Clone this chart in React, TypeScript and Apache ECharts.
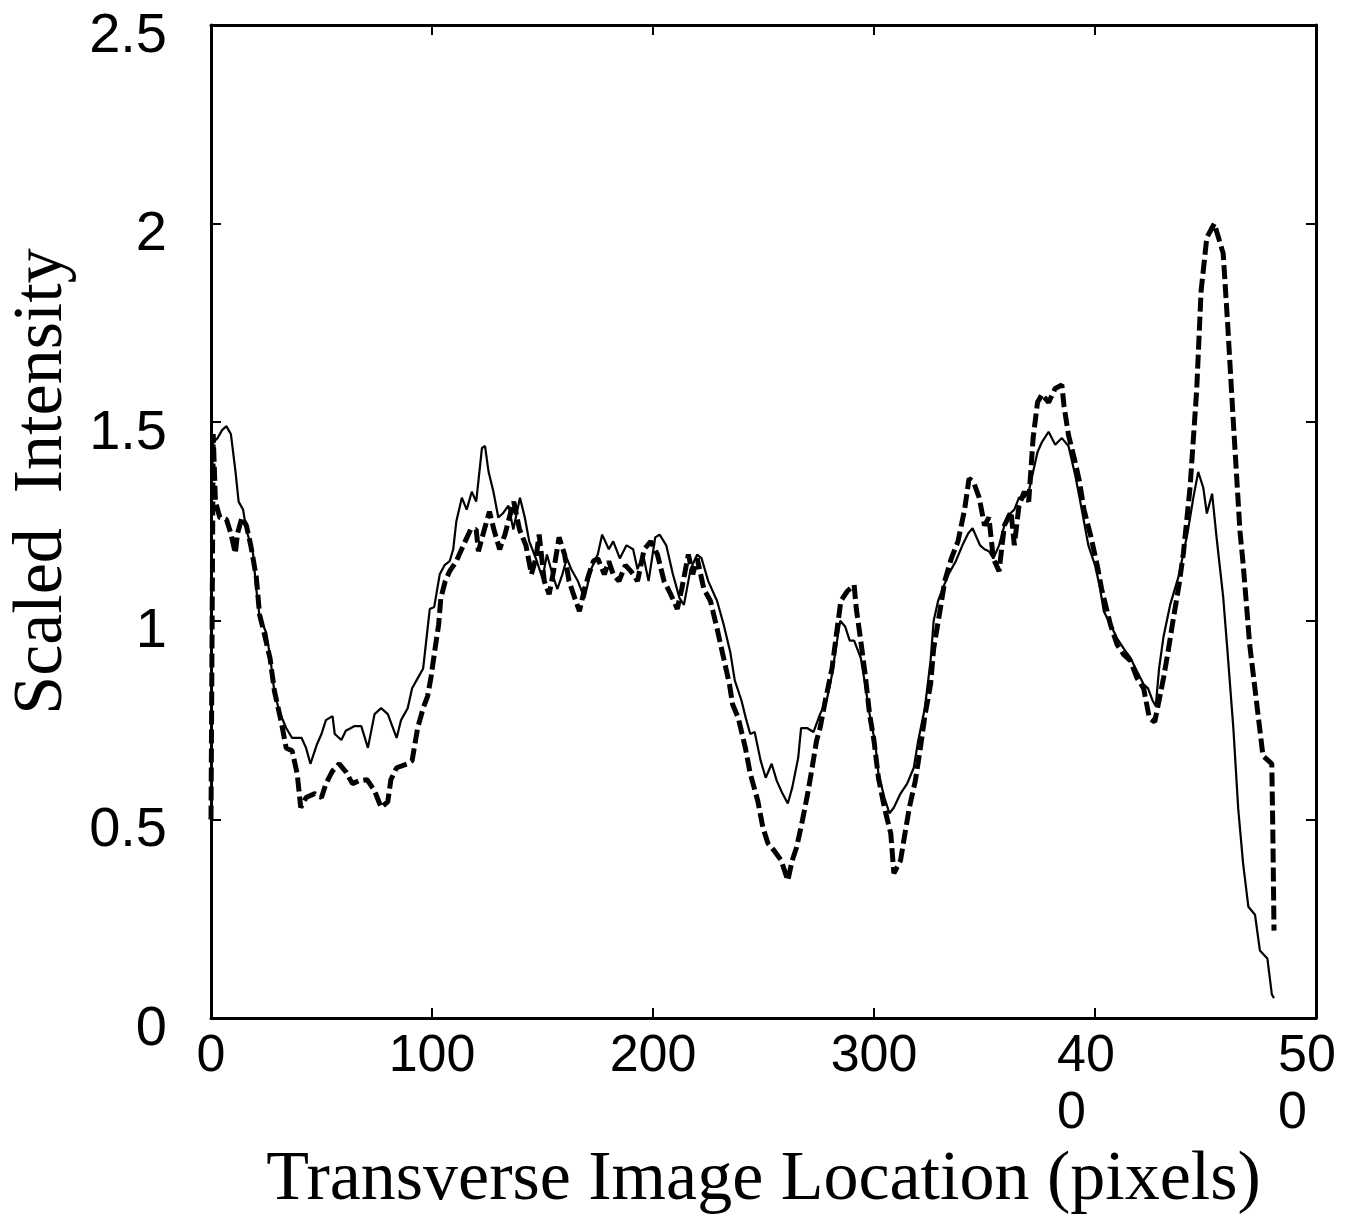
import React, { useEffect, useRef } from "react";
import * as echarts from "echarts";

// Tick labels (the original wraps the 3-digit labels at 400 and 500)
const xTickValues = [0, 100, 200, 300, 400, 500];
const xTickLabels = ["0", "100", "200", "300", "40\n0", "50\n0"];
const yTickLabels = ["0", "0.5", "1", "1.5", "2", "2.5"];

// Solid profile
const solidX = [
  0, 1, 3, 5, 7, 9, 11, 12.5, 14.5, 16, 19, 20.5, 22, 25, 27, 28.7, 31, 34, 36.7, 41,
  43, 45, 48, 50, 52, 55, 56, 59, 61, 65, 68, 71, 74, 77, 80, 84, 86, 89, 91, 93,
  96, 99, 101, 103.5, 105.7, 108, 109.6, 111, 113.5, 115.7, 118, 120, 122.6, 124, 125.6, 127.8, 130, 132, 134.6, 136.8,
  139.8, 142, 144, 147, 150, 152, 154.5, 156.7, 159, 161, 163, 166, 169, 172, 175, 177, 180, 182, 185, 188,
  191, 193, 195.5, 198, 201, 203, 206, 209, 212, 214, 217, 220, 222, 225, 229, 232, 235, 237, 240, 242,
  244, 246, 248.7, 251, 253.7, 256, 258.6, 261, 263, 265.7, 267, 269.7, 272.6, 275.6, 278.6, 281, 283, 284.7, 287, 289,
  291, 294, 296, 298, 300.6, 302, 304.7, 307, 309, 312, 315, 318, 320, 323, 325.6, 327, 329, 331, 334, 337,
  340, 342.6, 344.6, 348, 350, 352, 354, 356.6, 359, 361, 363.5, 365.6, 368, 370, 372, 374, 376, 379, 382, 385,
  388, 391, 393, 395, 397, 400, 402, 404, 407, 410, 413, 416, 419, 422, 424, 426, 427.5, 429, 431, 434,
  438, 442, 444.5, 446.7, 449, 450.6, 453, 455, 458, 460, 462.6, 464.8, 467, 469.4, 472.4, 474.6, 478, 480, 481,
];
const solidY = [
  1.3, 1.45, 1.46, 1.48, 1.49, 1.47, 1.38, 1.3, 1.28, 1.23, 1.17, 1.08, 1.01, 0.97, 0.9, 0.82, 0.77, 0.73, 0.705, 0.705,
  0.68, 0.64, 0.69, 0.715, 0.75, 0.76, 0.715, 0.7, 0.723, 0.735, 0.735, 0.68, 0.765, 0.78, 0.765, 0.705, 0.75, 0.78, 0.83, 0.85,
  0.88, 1.03, 1.035, 1.117, 1.14, 1.15, 1.18, 1.25, 1.31, 1.28, 1.325, 1.3, 1.435, 1.44, 1.375, 1.325, 1.26, 1.27, 1.29, 1.23,
  1.31, 1.26, 1.2, 1.157, 1.107, 1.167, 1.117, 1.08, 1.117, 1.157, 1.13, 1.1, 1.057, 1.13, 1.167, 1.217, 1.18, 1.2, 1.157, 1.19,
  1.18, 1.13, 1.167, 1.1, 1.21, 1.217, 1.19, 1.117, 1.057, 1.04, 1.13, 1.167, 1.157, 1.1, 1.05, 0.99, 0.92, 0.85, 0.8, 0.755,
  0.715, 0.72, 0.648, 0.605, 0.64, 0.597, 0.565, 0.54, 0.58, 0.655, 0.73, 0.73, 0.72, 0.765, 0.8, 0.865, 0.94, 1.0, 0.985, 0.95,
  0.95, 0.907, 0.84, 0.765, 0.69, 0.615, 0.555, 0.515, 0.53, 0.565, 0.59, 0.63, 0.698, 0.78, 0.9, 1.0, 1.05, 1.08, 1.12, 1.15,
  1.19, 1.22, 1.233, 1.19, 1.18, 1.175, 1.157, 1.19, 1.24, 1.267, 1.28, 1.31, 1.31, 1.325, 1.375, 1.425, 1.45, 1.476, 1.443, 1.46,
  1.44, 1.368, 1.31, 1.25, 1.19, 1.14, 1.09, 1.024, 0.99, 0.956, 0.93, 0.907, 0.873, 0.84, 0.83, 0.8, 0.785, 0.88, 0.96, 1.04,
  1.115, 1.225, 1.31, 1.375, 1.335, 1.27, 1.32, 1.21, 1.06, 0.92, 0.73, 0.527, 0.39, 0.28, 0.26, 0.17, 0.15, 0.06, 0.05,
];

// Dashed profile
const dashedX = [
  0, 1, 2, 4, 7, 9, 11, 12, 14, 16, 18, 20.5, 22, 24, 26.7, 28.7, 31.7, 34, 36.7, 39,
  40.6, 43, 47, 50, 52, 55, 58, 61, 64, 66.8, 70.6, 74, 77, 80, 81.4, 84, 89, 91, 93.5, 96,
  98, 99.5, 101, 103, 104, 106, 108, 111, 113, 115, 117.5, 120, 121, 123.7, 126, 128, 130.6, 133, 135, 137,
  139.6, 142.5, 145, 147, 148.5, 150.8, 153, 155, 157.5, 160, 162, 164, 166.7, 169, 171, 173, 175, 178, 180, 182,
  184.6, 187.5, 190, 193, 196, 199, 202, 205, 208, 211, 213, 216, 218, 220, 223, 226, 229, 231, 233, 234.6,
  236, 238.6, 241.8, 244, 247.4, 249.7, 252, 255, 258, 261, 263, 265, 267.6, 270, 272, 274, 275.6, 278, 281, 283,
  285, 288, 291, 292, 294, 296, 298, 300, 302, 304.7, 307.6, 309, 312, 314, 316, 318.7, 321, 323, 325.6, 327,
  330, 332, 335, 338, 341, 343, 345, 347.6, 350, 352, 354, 356.6, 359, 362, 363.5, 365.6, 368, 370, 372, 374,
  376, 379, 382, 385, 386, 388, 391, 393, 395, 398, 401, 403, 407, 410, 413, 416, 419, 422, 424.6, 427,
  429, 431, 433, 435, 438, 440, 443, 446, 448, 450.6, 454, 458, 460, 462.6, 465.6, 467, 470, 473, 476, 480,
  480.5, 481,
];
const dashedY = [
  0.5, 1.47, 1.3, 1.26, 1.255, 1.22, 1.17, 1.22, 1.26, 1.24, 1.19, 1.11, 1.015, 0.97, 0.906, 0.823, 0.748, 0.68, 0.673, 0.615,
  0.53, 0.555, 0.565, 0.555, 0.59, 0.622, 0.64, 0.62, 0.59, 0.597, 0.6, 0.572, 0.53, 0.545, 0.6, 0.63, 0.64, 0.648, 0.73, 0.78,
  0.81, 0.856, 0.915, 0.99, 1.057, 1.1, 1.125, 1.15, 1.175, 1.2, 1.23, 1.23, 1.175, 1.23, 1.275, 1.23, 1.18, 1.217, 1.26, 1.3,
  1.23, 1.19, 1.117, 1.157, 1.217, 1.1, 1.067, 1.125, 1.21, 1.167, 1.1, 1.067, 1.024, 1.08, 1.117, 1.15, 1.157, 1.117, 1.15, 1.117,
  1.1, 1.14, 1.125, 1.1, 1.18, 1.2, 1.167, 1.1, 1.067, 1.03, 1.08, 1.167, 1.117, 1.157, 1.08, 1.05, 0.98, 0.93, 0.88, 0.84,
  0.79, 0.755, 0.68, 0.615, 0.547, 0.48, 0.44, 0.42, 0.397, 0.346, 0.397, 0.43, 0.497, 0.565, 0.63, 0.698, 0.73, 0.8, 0.88, 0.966,
  1.05, 1.075, 1.09, 1.03, 0.95, 0.865, 0.765, 0.698, 0.605, 0.53, 0.464, 0.364, 0.397, 0.464, 0.53, 0.597, 0.68, 0.76, 0.84, 0.93,
  1.03, 1.1, 1.157, 1.2, 1.28, 1.358, 1.35, 1.31, 1.24, 1.26, 1.157, 1.125, 1.24, 1.275, 1.19, 1.29, 1.325, 1.3, 1.46, 1.55,
  1.57, 1.55, 1.585, 1.594, 1.54, 1.468, 1.4, 1.35, 1.28, 1.215, 1.14, 1.08, 0.99, 0.94, 0.915, 0.9, 0.856, 0.83, 0.755, 0.745,
  0.8, 0.856, 0.92, 0.99, 1.09, 1.17, 1.335, 1.58, 1.83, 1.965, 2.0, 1.925, 1.75, 1.5, 1.225, 1.145, 0.94, 0.8, 0.66, 0.64,
  0.457, 0.22,
];

const zip = (xs: number[], ys: number[]) => xs.map((x, i) => [x, ys[i]]);

export default function App() {
  const ref = useRef<HTMLDivElement>(null);
  useEffect(() => {
    if (!ref.current) return;
    const chart = echarts.init(ref.current, null, { renderer: "svg" });
    const sans = "'Liberation Sans', Arial, sans-serif";
    const serif = "'Liberation Serif', 'Times New Roman', serif";
    const axisLine = { show: true, onZero: false, lineStyle: { color: "#000", width: 3 } };
    const tick = { show: true, inside: true, length: 10, lineStyle: { color: "#000", width: 2 } };
    chart.setOption({
      animation: false,
      backgroundColor: "#fff",
      grid: {
        left: 211,
        right: 40,
        top: 25,
        bottom: 198,
        containLabel: false,
        outerBoundsMode: "none",
      },
      xAxis: [
        {
          type: "value",
          position: "bottom",
          min: 0,
          max: 500,
          interval: 100,
          axisLine,
          axisTick: tick,
          splitLine: { show: false },
          axisLabel: {
            margin: 6,
            color: "#000",
            fontFamily: sans,
            fontSize: 52,
            lineHeight: 57,
            formatter: (v: number) => {
              const i = xTickValues.indexOf(v);
              const s = i >= 0 ? xTickLabels[i] : String(v);
              if (s.indexOf("\n") >= 0) {
                return s
                  .split("\n")
                  .map((p) => "{w|" + p + "}")
                  .join("\n");
              }
              return s;
            },
            rich: {
              w: {
                width: 76,
                align: "left",
                fontFamily: sans,
                fontSize: 52,
                lineHeight: 57,
                color: "#000",
              },
            },
          },
          name: "Transverse Image Location (pixels)",
          nameLocation: "middle",
          nameGap: 137,
          nameMoveOverlap: false,
          nameTextStyle: { fontFamily: serif, fontSize: 70, lineHeight: 40, color: "#000" },
        },
        {
          type: "value",
          position: "top",
          min: 0,
          max: 500,
          interval: 100,
          axisLine,
          axisTick: tick,
          axisLabel: { show: false },
          splitLine: { show: false },
        },
      ],
      yAxis: [
        {
          type: "value",
          position: "left",
          min: 0,
          max: 2.5,
          interval: 0.5,
          axisLine,
          axisTick: tick,
          splitLine: { show: false },
          axisLabel: {
            margin: 44,
            color: "#000",
            fontFamily: sans,
            fontSize: 56,
            verticalAlign: "top",
            lineHeight: 14,
            formatter: (v: number) => {
              const i = Math.round(v / 0.5);
              return yTickLabels[i] ?? String(v);
            },
          },
          name: "Scaled  Intensity",
          nameLocation: "middle",
          nameGap: 139,
          nameMoveOverlap: false,
          nameTextStyle: {
            fontFamily: serif,
            fontSize: 70,
            color: "#000",
            padding: [0, 0, 0, 80],
          },
        },
        {
          type: "value",
          position: "right",
          min: 0,
          max: 2.5,
          interval: 0.5,
          axisLine,
          axisTick: tick,
          axisLabel: { show: false },
          splitLine: { show: false },
        },
      ],
      series: [
        {
          name: "solid",
          type: "line",
          xAxisIndex: 0,
          yAxisIndex: 0,
          data: zip(solidX, solidY),
          symbol: "none",
          lineStyle: { color: "#000", width: 2.2, type: "solid" },
        },
        {
          name: "dashed",
          type: "line",
          xAxisIndex: 0,
          yAxisIndex: 0,
          data: zip(dashedX, dashedY),
          symbol: "none",
          lineStyle: { color: "#000", width: 5, type: [14, 5] },
        },
      ],
    });
    return () => chart.dispose();
  }, []);
  return (
    <div
      ref={ref}
      style={{ position: "fixed", left: 0, top: 0, width: 1356, height: 1216, background: "#fff" }}
    />
  );
}
